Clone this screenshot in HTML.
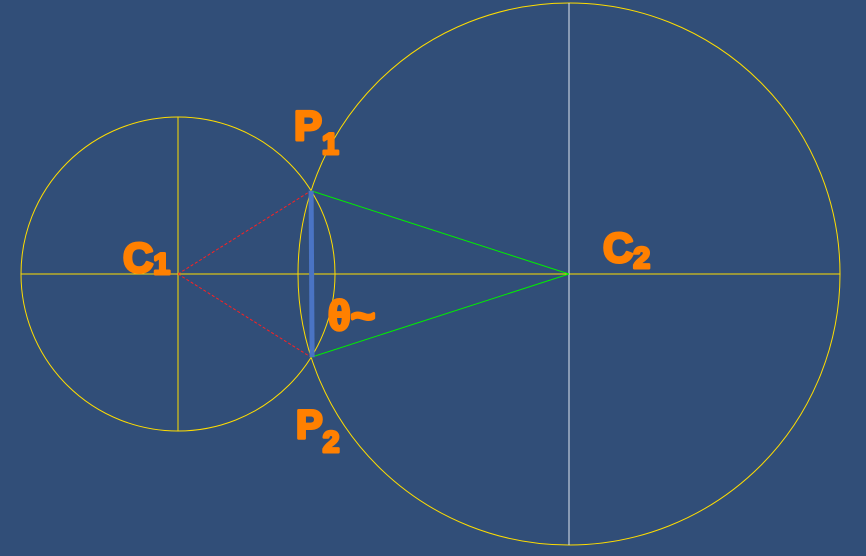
<!DOCTYPE html>
<html><head><meta charset="utf-8"><style>
html,body{margin:0;padding:0;background:#314e78;}
svg{display:block}
text{font-family:"Liberation Sans",sans-serif;font-weight:bold;fill:#ff8000;stroke:#ff8000;stroke-width:3;stroke-linejoin:round}
</style></head><body>
<svg id="chart" width="866" height="556" viewBox="0 0 866 556">
<rect width="866" height="556" fill="#314e78"/>
<g id="g"></g>
<text x="123" y="272" font-size="42">C<tspan font-size="30" dy="2">1</tspan></text>
<text x="294" y="140" font-size="42">P<tspan font-size="30" dy="14">1</tspan></text>
<text x="603" y="262" font-size="42">C<tspan font-size="30" dy="6">2</tspan></text>
<text x="328" y="330" font-size="42">θ~</text>
<text x="296" y="438" font-size="40">P<tspan font-size="30" dy="14">2</tspan></text>
</svg>
<script>
const centersX=[178,569];
const centersY=[274,274];
const radii=[157,271];
const vColors=["#ffdd00","#dfe6f0"];
const NS="http://www.w3.org/2000/svg";
const g=document.getElementById('g');
function mk(t,a){const e=document.createElementNS(NS,t);for(const k in a)e.setAttribute(k,a[k]);g.appendChild(e);return e;}
const hl=mk('line',{x1:centersX[0]-radii[0],y1:centersY[0],x2:centersX[1]+radii[1],y2:centersY[1],stroke:'#ffdd00','stroke-width':1});


for(let i=0;i<2;i++){
 const c=mk('circle',{cx:centersX[i],cy:centersY[i],r:radii[i],fill:'none',stroke:'#ffdd00','stroke-width':1});
 
 
 const v=mk('line',{x1:centersX[i],y1:centersY[i]-radii[i],x2:centersX[i],y2:centersY[i]+radii[i],stroke:vColors[i],'stroke-width':1});
 
 
}
const d=centersX[1]-centersX[0];
const a=(d*d+radii[0]*radii[0]-radii[1]*radii[1])/(2*d);
const h=Math.sqrt(radii[0]*radii[0]-a*a);
const px=centersX[0]+a, p1y=centersY[0]-h, p2y=centersY[0]+h;
[p1y,p2y].forEach((py,j)=>{
 const r=mk('line',{x1:centersX[0],y1:centersY[0],x2:px,y2:py,stroke:'#ff2020','stroke-width':1,'stroke-dasharray':'3,2'});
 
 
 const gr=mk('line',{x1:centersX[1],y1:centersY[1],x2:px,y2:py,stroke:'#00ee00','stroke-width':1});
 
 
});
const ch=mk('line',{x1:px,y1:p1y,x2:px+1,y2:p2y,stroke:'#4a74c4','stroke-width':5});


</script>
</body></html>
